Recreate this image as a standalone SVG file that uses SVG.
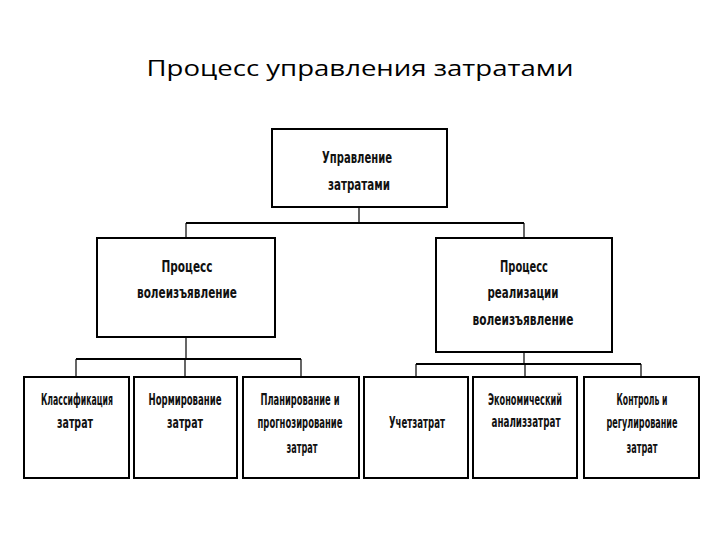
<svg xmlns="http://www.w3.org/2000/svg" width="720" height="540" viewBox="0 0 720 540">
<style>
.box{fill:#fff;stroke:#000;stroke-width:2}
.t{font-family:"DejaVu Sans Condensed","DejaVu Sans",sans-serif;font-weight:bold;font-size:15px;fill:#111;text-anchor:middle}
.h{stroke:#000;stroke-width:2;fill:none}
.v{stroke:#000;stroke-width:1.2;fill:none}
.title{font-family:"Open Sans","Noto Sans",sans-serif;font-size:22px;fill:#000;text-anchor:middle}
</style>
<rect width="720" height="540" fill="#fff"/>
<text class="title" x="360" y="76" textLength="427" lengthAdjust="spacingAndGlyphs">Процесс управления затратами</text>
<g id="connectors">
<path class="v" d="M359 207V223"/>
<path class="h" d="M186 223H524"/>
<path class="v" d="M186 223V238M524 223V238"/>
<path class="v" d="M186 337V359"/>
<path class="h" d="M76 359H301"/>
<path class="v" d="M76 359V377M185 359V377M301 359V377"/>
<path class="v" d="M524 352V364"/>
<path class="h" d="M416 364H641"/>
<path class="v" d="M416 364V377M525 364V377M641 364V377"/>
</g>
<g id="n-root">
<rect class="box" x="272" y="129" width="175" height="78"/>
<text class="t" x="357" y="163" textLength="70" lengthAdjust="spacingAndGlyphs">Управление</text>
<text class="t" x="359" y="190" textLength="62" lengthAdjust="spacingAndGlyphs">затратами</text>
</g>
<g id="n-left">
<rect class="box" x="97" y="238" width="178" height="99"/>
<text class="t" x="187" y="272" textLength="51" lengthAdjust="spacingAndGlyphs">Процесс</text>
<text class="t" x="187" y="298" textLength="100" lengthAdjust="spacingAndGlyphs">волеизъявление</text>
</g>
<g id="n-right">
<rect class="box" x="436" y="238" width="176" height="114"/>
<text class="t" x="524" y="272" textLength="48" lengthAdjust="spacingAndGlyphs">Процесс</text>
<text class="t" x="523" y="298" textLength="71" lengthAdjust="spacingAndGlyphs">реализации</text>
<text class="t" x="523" y="325" textLength="101" lengthAdjust="spacingAndGlyphs">волеизъявление</text>
</g>
<g id="n-c1">
<rect class="box" x="24" y="377" width="105" height="101"/>
<text class="t" x="77" y="405" textLength="72" lengthAdjust="spacingAndGlyphs">Классификация</text>
<text class="t" x="75" y="428" textLength="36" lengthAdjust="spacingAndGlyphs">затрат</text>
</g>
<g id="n-c2">
<rect class="box" x="134" y="377" width="103" height="101"/>
<text class="t" x="185" y="405" textLength="73" lengthAdjust="spacingAndGlyphs">Нормирование</text>
<text class="t" x="185" y="428" textLength="36" lengthAdjust="spacingAndGlyphs">затрат</text>
</g>
<g id="n-c3">
<rect class="box" x="243" y="377" width="116" height="101"/>
<text class="t" x="300" y="405" textLength="79" lengthAdjust="spacingAndGlyphs">Планирование и</text>
<text class="t" x="300" y="428" textLength="85" lengthAdjust="spacingAndGlyphs">прогнозирование</text>
<text class="t" x="302" y="453" textLength="31" lengthAdjust="spacingAndGlyphs">затрат</text>
</g>
<g id="n-c4">
<rect class="box" x="364" y="377" width="104" height="101"/>
<text class="t" x="417" y="428" textLength="56" lengthAdjust="spacingAndGlyphs">Учетзатрат</text>
</g>
<g id="n-c5">
<rect class="box" x="473" y="377" width="104" height="101"/>
<text class="t" x="525" y="405" textLength="74" lengthAdjust="spacingAndGlyphs">Экономический</text>
<text class="t" x="526" y="427" textLength="69" lengthAdjust="spacingAndGlyphs">анализзатрат</text>
</g>
<g id="n-c6">
<rect class="box" x="584" y="377" width="115" height="101"/>
<text class="t" x="642" y="405" textLength="51" lengthAdjust="spacingAndGlyphs">Контроль и</text>
<text class="t" x="642" y="428" textLength="71" lengthAdjust="spacingAndGlyphs">регулирование</text>
<text class="t" x="642" y="453" textLength="31" lengthAdjust="spacingAndGlyphs">затрат</text>
</g>
</svg>
